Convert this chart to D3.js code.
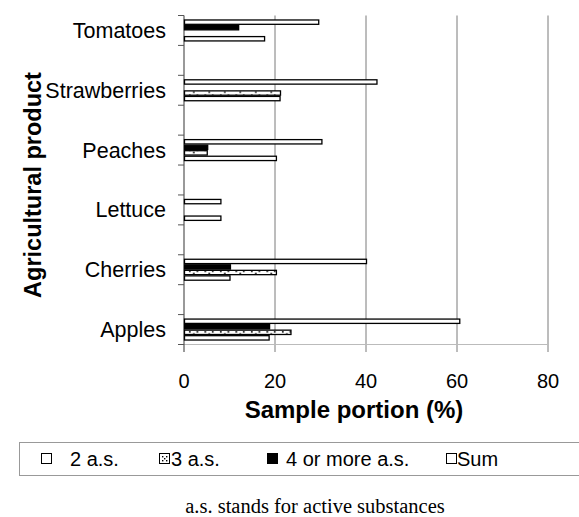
<!DOCTYPE html>
<html><head><meta charset="utf-8">
<script src="https://cdn.jsdelivr.net/npm/d3@7"></script>
<style>body{margin:0;background:#fff}svg{display:block}</style>
</head><body>
<svg id="c" width="579" height="517"></svg>
<script>
const categories = ["Tomatoes","Strawberries","Peaches","Lettuce","Cherries","Apples"];
const seriesNames = ["Sum","4 or more a.s.","3 a.s.","2 a.s."];
const sumVals   = [29.5, 42.3, 30.2, 8.0, 40.0, 60.5];
const four      = [11.9, 0, 5.1, 0, 10.1, 18.7];
const three     = [0, 21.1, 5.0, 0, 20.2, 23.4];
const two       = [17.6, 21.0, 20.2, 8.0, 10.0, 18.6];
const xTicks = [0,20,40,60,80];
const legendItems = ["2 a.s.","3 a.s.","4 or more a.s.","Sum"];

const seriesVals = {"Sum":sumVals,"4 or more a.s.":four,"3 a.s.":three,"2 a.s.":two};
const svg = d3.select("#c");
const defs = svg.append("defs");
const pat = defs.append("pattern").attr("id","dots").attr("patternUnits","userSpaceOnUse")
  .attr("width",15.5).attr("height",5.5);
pat.append("rect").attr("width",15.5).attr("height",5.5).attr("fill","#fff");
[[3,1],[10.5,1],[7,3.3]].forEach(([x,y])=>pat.append("rect").attr("x",x).attr("y",y).attr("width",1.6).attr("height",1.6).attr("fill","#000"));

const x = d3.scaleLinear().domain([0,80]).range([184,548]);
const y = d3.scaleBand().domain(categories).range([15.5,344.5]).paddingInner(0.5).paddingOuter(0);
const yi = d3.scaleBand().domain(seriesNames).range([0,y.bandwidth()]).paddingInner(0).paddingOuter(0.7);

// grid
svg.append("g").selectAll("line").data(xTicks.slice(1)).join("line")
  .attr("x1",d=>x(d)).attr("x2",d=>x(d)).attr("y1",15.5).attr("y2",352)
  .attr("stroke","#7a7a7a").attr("stroke-width",1);
// bottom faint line
svg.append("line").attr("x1",178).attr("x2",548).attr("y1",344.5).attr("y2",344.5).attr("stroke","#bbb");
// y axis line
svg.append("line").attr("x1",184).attr("x2",184).attr("y1",15.5).attr("y2",352).attr("stroke","#555").attr("stroke-width",1.2);
// y ticks at band edges
const tickYs = [];
categories.forEach(c=>{tickYs.push(y(c)); tickYs.push(y(c)+y.bandwidth());});
svg.append("g").selectAll("line").data(tickYs).join("line")
  .attr("x1",178).attr("x2",184).attr("y1",d=>d).attr("y2",d=>d).attr("stroke","#555");

// bars
const styles = {"Sum":{fill:"#fff"},"4 or more a.s.":{fill:"#000"},"3 a.s.":{fill:"url(#dots)"},"2 a.s.":{fill:"#fff"}};
const barData = [];
categories.forEach((c,i)=>seriesNames.forEach(s=>{ if(seriesVals[s][i]>0) barData.push({c,s,v:seriesVals[s][i]}); }));
svg.append("g").selectAll("rect").data(barData).join("rect")
  .attr("x",x(0)+0.5).attr("y",d=>y(d.c)+yi(d.s)+0.6)
  .attr("width",d=>x(d.v)-x(0)).attr("height",yi.bandwidth()-1.2)
  .attr("fill",d=>styles[d.s].fill).attr("stroke","#000").attr("stroke-width",1.3);

// x tick labels
svg.append("g").selectAll("text").data(xTicks).join("text")
  .attr("x",d=>x(d)).attr("y",388).attr("text-anchor","middle")
  .attr("font-family","Liberation Sans, Arial, sans-serif").attr("font-size",20).text(d=>d);
// category labels
svg.append("g").selectAll("text").data(categories).join("text")
  .attr("x",166).attr("y",d=>y(d)+y.bandwidth()/2+7.5).attr("text-anchor","end")
  .attr("font-family","Liberation Sans, Arial, sans-serif").attr("font-size",21.5).text(d=>d);
// axis titles
svg.append("text").attr("x",354).attr("y",418).attr("text-anchor","middle")
  .attr("font-family","Liberation Sans, Arial, sans-serif").attr("font-weight","bold").attr("font-size",24)
  .text("Sample portion (%)");
svg.append("text").attr("transform","translate(41,185) rotate(-90)").attr("text-anchor","middle")
  .attr("font-family","Liberation Sans, Arial, sans-serif").attr("font-weight","bold").attr("font-size",23.5)
  .text("Agricultural product");

// legend
svg.append("rect").attr("x",19.5).attr("y",442.5).attr("width",560).attr("height",33)
  .attr("fill","#fff").attr("stroke","#999");
const legX = [41, 159, 267, 446];
const legTX = [70, 171, 286, 457];
const lg = svg.append("g").selectAll("g").data(legendItems).join("g");
lg.each(function(d,i){
  const g = d3.select(this);
  const sx = legX[i], sy = 453;
  if (i===0 || i===3) {
    g.append("rect").attr("x",sx+0.5).attr("y",sy+0.5).attr("width",10).attr("height",10).attr("fill","#fff").attr("stroke","#000").attr("stroke-width",1);
  } else if (i===1) {
    g.append("rect").attr("x",sx+0.5).attr("y",sy+0.5).attr("width",10).attr("height",10).attr("fill","#fff").attr("stroke","#000").attr("stroke-width",1);
    [[3,3],[7,3],[5,5],[3,7],[7,7]].forEach(([a,b])=>g.append("rect").attr("x",sx+a).attr("y",sy+b).attr("width",1.4).attr("height",1.4).attr("fill","#000"));
  } else {
    g.append("rect").attr("x",sx).attr("y",sy).attr("width",11).attr("height",11).attr("fill","#000");
  }
  g.append("text").attr("x",legTX[i]).attr("y",466).attr("font-family","Liberation Sans, Arial, sans-serif")
    .attr("font-size",20).text(d);
});

// footnote
svg.append("text").attr("x",315).attr("y",513).attr("text-anchor","middle")
  .attr("font-family","Liberation Serif, Times New Roman, serif").attr("font-size",20.5)
  .text("a.s. stands for active substances");
</script>
</body></html>
